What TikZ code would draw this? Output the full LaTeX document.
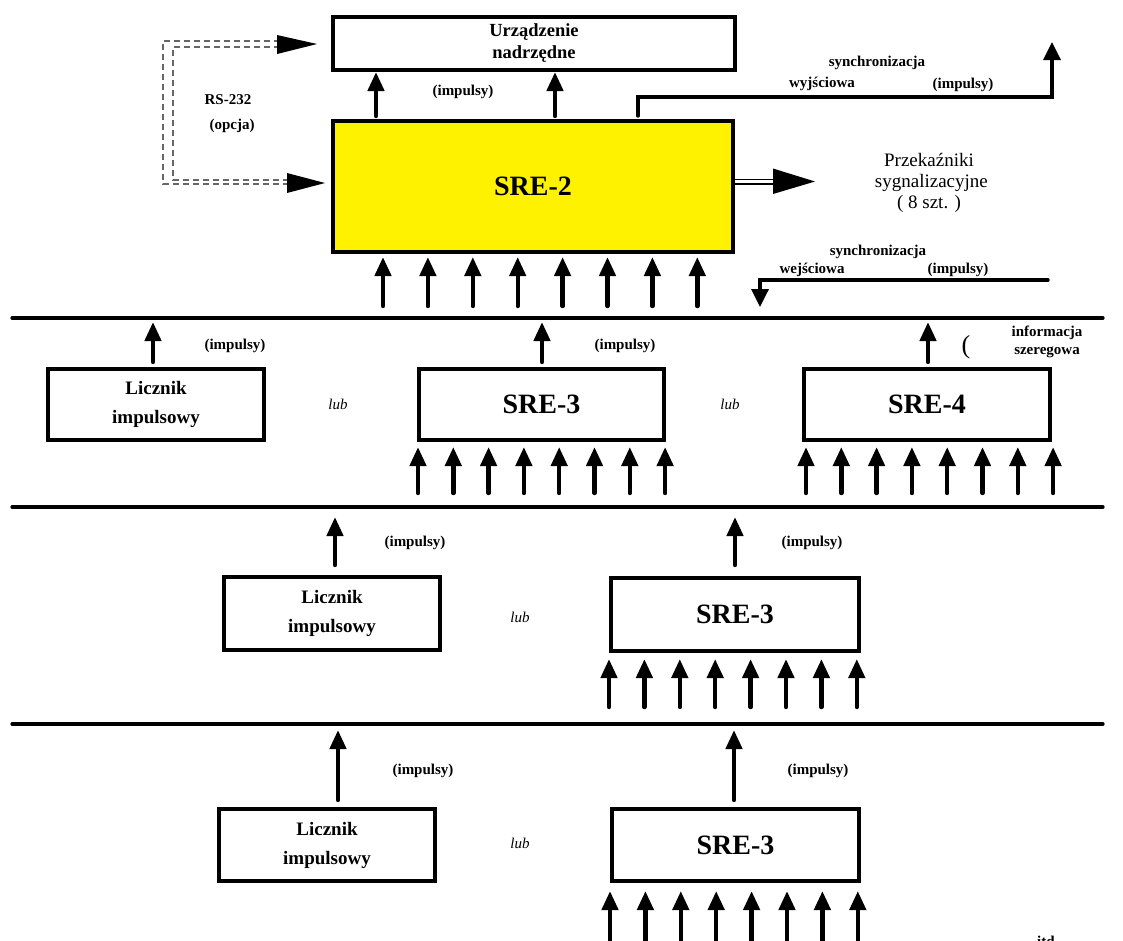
\documentclass[tikz,border=0pt]{standalone}
\usepackage{fontspec}
\setmainfont{Liberation Serif}
\usetikzlibrary{arrows.meta}
\begin{document}
\begin{tikzpicture}[x=1pt,y=-1pt,
  box/.style={draw=black, line width=4pt, inner sep=0pt, outer sep=0pt, align=center},
  lbl/.style={font=\fontsize{15}{18}\selectfont\bfseries, inner sep=0pt, align=center},
  boxtxt/.style={font=\fontsize{19}{29}\selectfont\bfseries},
  bigtxt/.style={font=\fontsize{28}{30}\selectfont\bfseries},
  lubtxt/.style={font=\fontsize{15}{18}\selectfont\itshape, inner sep=0pt},
  arr/.style={line width=4.4pt, line cap=round, -{Triangle[length=19pt,width=16pt]}},
  sep/.style={line width=3.2pt, line cap=round},
  sync/.style={line width=3.4pt, line cap=round, line join=miter, -{Triangle[length=18pt,width=17pt]}},
  rs/.style={draw=black!60, line width=1.2pt, dash pattern=on 6pt off 4pt},
  dbl/.style={line width=1.6pt},
]
\clip (0,0) rectangle (1123,940);
\fill[white] (0,0) rectangle (1123,940);

% ---------- top part ----------
\node[box, minimum width=402pt, minimum height=53pt, font=\fontsize{18.5}{22}\selectfont\bfseries] (urz) at (534,43.5) {Urządzenie\\nadrzędne};
\node[box, fill=yellow, minimum width=400pt, minimum height=131pt, bigtxt] (sre2) at (533,186.5) {SRE-2};

\draw[arr] (376,116) -- (376,72);
\draw[arr] (555,116) -- (555,72);
\node[lbl] (imp0) at (463,92) {(impulsy)};

% RS-232 (opcja)
\coordinate (rsA1) at (280,41); \coordinate (rsA2) at (163,41); \coordinate (rsA3) at (163,184); \coordinate (rsA4) at (290,184);
\coordinate (rsB1) at (280,47); \coordinate (rsB2) at (173,47); \coordinate (rsB3) at (173,180); \coordinate (rsB4) at (290,180);
\draw[rs] (rsA1) -- (rsA2) -- (rsA3) -- (rsA4);
\draw[rs] (rsB1) -- (rsB2) -- (rsB3) -- (rsB4);
\fill (277,35) -- (317,44) -- (277,54) -- cycle;
\fill (287,173) -- (325,183) -- (287,193) -- cycle;
\node[lbl] (rs232) at (228,100) {RS-232};
\node[lbl] (opcja) at (232,126) {(opcja)};

% synchronizacja wyjsciowa
\coordinate (so0) at (638,116); \coordinate (so1) at (638,97); \coordinate (so2) at (1052,97); \coordinate (so3) at (1052,42);
\draw[sync] (so0) -- (so1) -- (so2) -- (so3);
\node[lbl] (sw1) at (877,63) {synchronizacja};
\node[lbl] (sw2) at (822,84) {wyjściowa};
\node[lbl] (sw3) at (963,85) {(impulsy)};

% przekazniki
\draw[dbl] (735,179.5) -- (776,179.5);
\draw[dbl] (735,184) -- (776,184);
\fill (773,168.5) -- (815,181.5) -- (773,194) -- cycle;
\node[font=\fontsize{19}{21}\selectfont, align=center] (prz) at (929,183) {Przekaźniki\\\ sygnalizacyjne\\( 8 szt. )};

% inputs of SRE-2
\foreach \i in {0,...,7} \draw[arr] ({383+44.9*\i},306) -- ({383+44.9*\i},257);

% synchronizacja wejsciowa
\coordinate (si0) at (1048,280); \coordinate (si1) at (760,280); \coordinate (si2) at (760,307);
\draw[sync] (si0) -- (si1) -- (si2);
\node[lbl] (se1) at (878,252) {synchronizacja};
\node[lbl] (se2) at (812,270) {wejściowa};
\node[lbl] (se3) at (958,270) {(impulsy)};

% separator lines
\coordinate (l1a) at (12,318); \coordinate (l1b) at (1103,318);
\coordinate (l2a) at (12,507); \coordinate (l2b) at (1103,507);
\coordinate (l3a) at (12,724); \coordinate (l3b) at (1103,724);
\draw[sep] (l1a) -- (l1b);
\draw[sep] (l2a) -- (l2b);
\draw[sep] (l3a) -- (l3b);

% ---------- row 2 ----------
\node[box, minimum width=216pt, minimum height=71pt, boxtxt] (lic1) at (156,404.5) {Licznik\\impulsowy};
\node[box, minimum width=245pt, minimum height=71pt, bigtxt] (sre3a) at (541.5,404.5) {SRE-3};
\node[box, minimum width=246pt, minimum height=71pt, bigtxt] (sre4) at (927,404.5) {SRE-4};
\draw[arr] (153,362) -- (153,322);
\draw[arr] (542,362) -- (542,322);
\draw[arr] (928,362) -- (928,322);
\foreach \i in {0,...,7} \draw[arr] ({418+35.3*\i},493) -- ({418+35.3*\i},447);
\foreach \i in {0,...,7} \draw[arr] ({806+35.3*\i},493) -- ({806+35.3*\i},447);
\node[lbl] (imp1) at (235,346) {(impulsy)};
\node[lbl] (imp2) at (625,346) {(impulsy)};
\node[lubtxt] (lub1) at (338,404) {lub};
\node[lubtxt] (lub2) at (730,404) {lub};
\node[font=\fontsize{26}{28}\selectfont, inner sep=0pt] (par) at (966,347) {(};
\node[lbl, font=\fontsize{15}{18}\selectfont\bfseries] (inf) at (1047,342) {informacja\\szeregowa};

% ---------- row 3 ----------
\node[box, minimum width=216pt, minimum height=73pt, boxtxt] (lic2) at (332,613.5) {Licznik\\impulsowy};
\node[box, minimum width=248pt, minimum height=73pt, bigtxt] (sre3b) at (735,614.5) {SRE-3};
\draw[arr] (335,565) -- (335,517);
\draw[arr] (735,565) -- (735,517);
\foreach \i in {0,...,7} \draw[arr] ({609+35.4*\i},707) -- ({609+35.4*\i},659);
\node[lbl] (imp3) at (415,543) {(impulsy)};
\node[lbl] (imp4) at (812,543) {(impulsy)};
\node[lubtxt] (lub3) at (520,617) {lub};

% ---------- row 4 ----------
\node[box, minimum width=216pt, minimum height=72pt, boxtxt] (lic3) at (327,845) {Licznik\\impulsowy};
\node[box, minimum width=247pt, minimum height=72pt, bigtxt] (sre3c) at (735.5,845) {SRE-3};
\draw[arr] (338,800) -- (338,730);
\draw[arr] (734,800) -- (734,730);
\foreach \i in {0,...,7} \draw[arr] ({610+35.4*\i},952) -- ({610+35.4*\i},891);
\node[lbl] (imp5) at (423,771) {(impulsy)};
\node[lbl] (imp6) at (818,771) {(impulsy)};
\node[lubtxt] (lub4) at (520,843) {lub};
\node[lbl, anchor=base west] (itd) at (1037,946) {itd.};
\end{tikzpicture}
\end{document}
